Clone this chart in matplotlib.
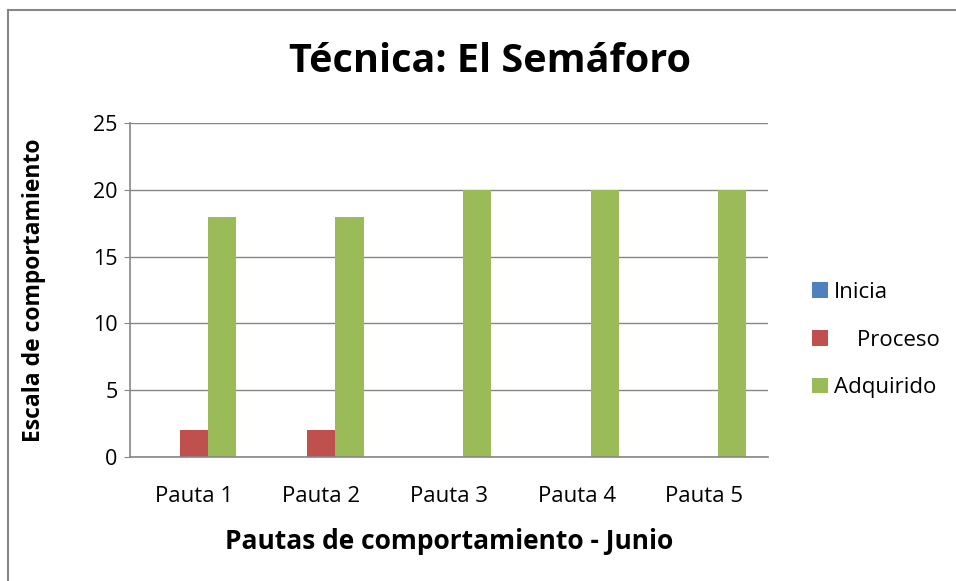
import numpy as np
import matplotlib.pyplot as plt
from matplotlib.lines import Line2D

plt.rcParams['font.family'] = ['Open Sans', 'DejaVu Sans']

pautas = ['Pauta 1', 'Pauta 2', 'Pauta 3', 'Pauta 4', 'Pauta 5']
inicia = [0, 0, 0, 0, 0]
proceso = [2, 2, 0, 0, 0]
adquirido = [18, 18, 20, 20, 20]

fig = plt.figure(figsize=(9.56, 5.81), dpi=100)
ax = fig.add_axes([130/956, 1-457/581, (768-130)/956, (457-123)/581])

x = np.arange(len(pautas))
w = 0.22
ax.bar(x - w, inicia, w, color='#4F81BD', linewidth=0, label='Inicia')
ax.bar(x, proceso, w, color='#C0504D', linewidth=0, label='    Proceso')
ax.bar(x + w, adquirido, w, color='#9BBB59', linewidth=0, label='Adquirido')

ax.set_xlim(-0.5, 4.5)
ax.set_ylim(0, 25)
ax.set_yticks(range(0, 26, 5))
ax.set_xticks(x)
ax.set_xticklabels(pautas, fontsize=16)
ax.tick_params(axis='y', labelsize=15.5, length=4, color='#868686', pad=5)
ax.tick_params(axis='x', length=0, pad=21)
ax.yaxis.grid(True, color='#868686', linewidth=1)
ax.set_axisbelow(True)
for s in ['top', 'right']:
    ax.spines[s].set_visible(False)
ax.spines['left'].set_color('#868686')
ax.spines['bottom'].set_color('#868686')
ax.spines['left'].set_linewidth(1.2)
ax.spines['bottom'].set_linewidth(1.2)

ax.set_xlabel('Pautas de comportamiento - Junio', fontsize=19, fontweight='bold', labelpad=15)
ax.set_ylabel('Escala de comportamiento', fontsize=16.5, fontweight='bold', labelpad=34)
fig.text(490/956, 1-62/581, 'Técnica: El Semáforo', fontsize=28.5, fontweight='bold',
         ha='center', va='center')

fig.legend(loc='center left', bbox_to_anchor=(792/956, 1-340/581), frameon=False,
           fontsize=16, labelspacing=1.2, handlelength=0.7, handleheight=0.7,
           handletextpad=0.3)

# marco exterior del gráfico
fig.add_artist(Line2D([8/956, 8/956], [0, 1-10/581], color='#868686', linewidth=1.5))
fig.add_artist(Line2D([8/956, 1], [1-10/581, 1-10/581], color='#868686', linewidth=1.5))

fig.savefig('out.png', dpi=100)
